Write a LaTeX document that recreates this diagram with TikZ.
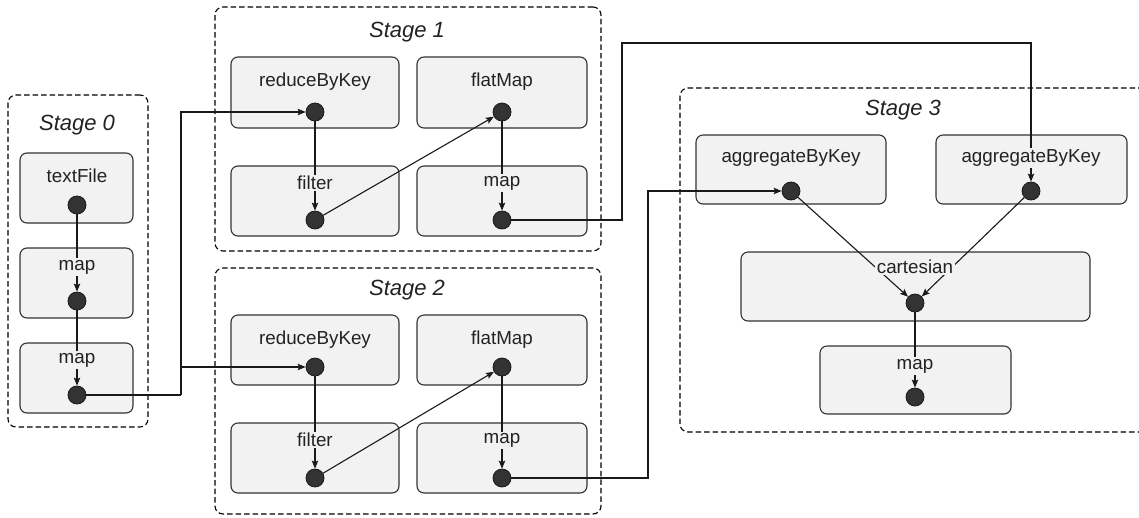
\documentclass[tikz,border=0pt]{standalone}
\usepackage{fontspec}
\setmainfont{Liberation Sans}
\usetikzlibrary{arrows.meta}
\definecolor{boxfill}{HTML}{F2F2F2}
\definecolor{boxline}{HTML}{333333}
\definecolor{dotfill}{HTML}{333333}
\definecolor{txt}{HTML}{222222}
\tikzset{
  stagebox/.style={draw=black, dash pattern=on 5.5pt off 3pt, line width=1.1pt, rounded corners=8pt, inner sep=0pt},
  opbox/.style={draw=boxline, fill=boxfill, line width=1.1pt, rounded corners=7pt, inner sep=0pt},
  stagelabel/.style={font=\fontsize{22pt}{24pt}\selectfont\itshape, text=txt, inner sep=0pt},
  oplabel/.style={font=\fontsize{18.8pt}{20pt}\selectfont, text=txt, fill=boxfill, inner sep=1.5pt},
  opdot/.style={circle, draw=black!90, fill=dotfill, line width=0.8pt, minimum size=18pt, inner sep=0pt},
  edge/.style={draw=black!90, line width=1.1pt},
  arr/.style={edge, -{Stealth[length=8pt,width=6.5pt,inset=1.5pt]}}
}
\begin{document}
\begin{tikzpicture}[x=1pt,y=-1pt]
\useasboundingbox (0,0) rectangle (1139,517);
\clip (0,0) rectangle (1139,517);
\fill[white] (0,0) rectangle (1139,517);
% stages
\node[stagebox, minimum width=140pt, minimum height=332pt] (S0) at (78,261) {};
\node[stagebox, minimum width=386pt, minimum height=244pt] (S1) at (408,129) {};
\node[stagebox, minimum width=386pt, minimum height=246pt] (S2) at (408,391) {};
\node[stagebox, minimum width=480pt, minimum height=344pt] (S3) at (920,260) {};
\node[stagelabel] (S0l) at (77,125) {Stage 0};
\node[stagelabel] (S1l) at (407,32) {Stage 1};
\node[stagelabel] (S2l) at (407,290) {Stage 2};
\node[stagelabel] (S3l) at (903,110) {Stage 3};
% op boxes
\node[opbox, minimum width=113pt, minimum height=70pt] (b0tf) at (76.5,188) {};
\node[opbox, minimum width=113pt, minimum height=70pt] (b0m1) at (76.5,283) {};
\node[opbox, minimum width=113pt, minimum height=70pt] (b0m2) at (76.5,378) {};
\node[opbox, minimum width=168pt, minimum height=71pt] (b1r) at (315,92.5) {};
\node[opbox, minimum width=170pt, minimum height=71pt] (b1fm) at (502,92.5) {};
\node[opbox, minimum width=168pt, minimum height=70pt] (b1fi) at (315,201) {};
\node[opbox, minimum width=170pt, minimum height=70pt] (b1m) at (502,201) {};
\node[opbox, minimum width=168pt, minimum height=70pt] (b2r) at (315,350) {};
\node[opbox, minimum width=170pt, minimum height=70pt] (b2fm) at (502,350) {};
\node[opbox, minimum width=168pt, minimum height=70pt] (b2fi) at (315,458) {};
\node[opbox, minimum width=170pt, minimum height=70pt] (b2m) at (502,458) {};
\node[opbox, minimum width=190pt, minimum height=69pt] (b3a1) at (791,169.5) {};
\node[opbox, minimum width=191pt, minimum height=69pt] (b3a2) at (1031.5,169.5) {};
\node[opbox, minimum width=349pt, minimum height=69pt] (b3c) at (915.5,286.5) {};
\node[opbox, minimum width=191pt, minimum height=68pt] (b3m) at (915.5,380) {};
% dots
\node[opdot] (d0tf) at (77,205) {};
\node[opdot] (d0m1) at (77,301) {};
\node[opdot] (d0m2) at (77,395) {};
\node[opdot] (d1r) at (315,112) {};
\node[opdot] (d1fm) at (502,112) {};
\node[opdot] (d1fi) at (315,220) {};
\node[opdot] (d1m) at (502,220) {};
\node[opdot] (d2r) at (315,367) {};
\node[opdot] (d2fm) at (502,367) {};
\node[opdot] (d2fi) at (315,478) {};
\node[opdot] (d2m) at (502,478) {};
\node[opdot] (d3a1) at (791,191) {};
\node[opdot] (d3a2) at (1031,191) {};
\node[opdot] (d3c) at (915,303) {};
\node[opdot] (d3m) at (915,397) {};
% junctions
\coordinate (j0) at (181,395);
\coordinate (j1) at (622,43);
\coordinate (j2) at (648,191);
% edges
\draw[arr] (d0tf) -- (d0m1);
\draw[arr] (d0m1) -- (d0m2);
\draw[edge] (d0m2) -- (j0);
\draw[arr] (j0) |- (d1r);
\draw[arr] (j0) |- (d2r);
\draw[arr] (d1r) -- (d1fi);
\draw[arr] (d1fi) -- (d1fm);
\draw[arr] (d1fm) -- (d1m);
\draw[arr] (d2r) -- (d2fi);
\draw[arr] (d2fi) -- (d2fm);
\draw[arr] (d2fm) -- (d2m);
\draw[arr] (d1m) -| (j1) -| (d3a2);
\draw[arr] (d2m) -| (j2) -- (d3a1);
\draw[arr] (d3a1) -- (d3c);
\draw[arr] (d3a2) -- (d3c);
\draw[arr] (d3c) -- (d3m);
% labels
\node[oplabel] (l0tf) at (77,176) {textFile};
\node[oplabel] (l0m1) at (77,267) {map};
\node[oplabel] (l0m2) at (77,360) {map};
\node[oplabel] (l1r) at (315,82) {reduceByKey};
\node[oplabel] (l1fm) at (502,82) {flatMap};
\node[oplabel] (l1fi) at (315,183) {filter};
\node[oplabel] (l1m) at (502,183) {map};
\node[oplabel] (l2r) at (315,340) {reduceByKey};
\node[oplabel] (l2fm) at (502,340) {flatMap};
\node[oplabel] (l2fi) at (315,440) {filter};
\node[oplabel] (l2m) at (502,440) {map};
\node[oplabel] (l3a1) at (791,158) {aggregateByKey};
\node[oplabel] (l3a2) at (1031,158) {aggregateByKey};
\node[oplabel] (l3c) at (915,267) {cartesian};
\node[oplabel] (l3m) at (915,366) {map};
\end{tikzpicture}
\end{document}
